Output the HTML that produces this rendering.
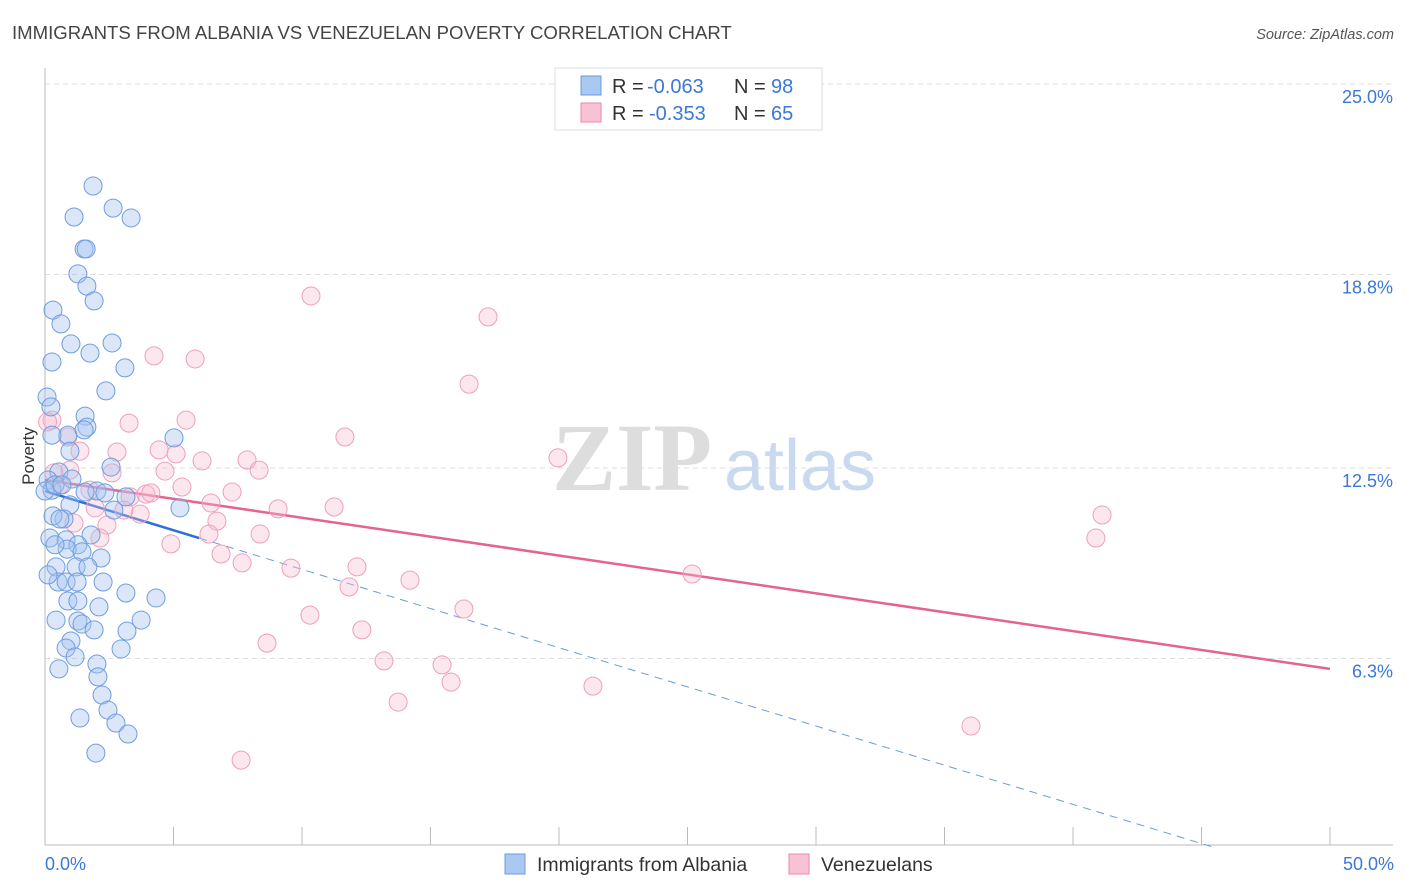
<!DOCTYPE html>
<html><head><meta charset="utf-8"><style>
body{margin:0;background:#fff;font-family:"Liberation Sans",sans-serif}
svg{display:block}
</style></head><body>
<svg id="chart" width="1406" height="892">
<text x="12" y="39" font-size="18.6" fill="#444">IMMIGRANTS FROM ALBANIA VS VENEZUELAN POVERTY CORRELATION CHART</text>
<text x="1394" y="39" font-size="14.5" fill="#555" font-style="italic" text-anchor="end">Source: ZipAtlas.com</text>
<g><text x="632" y="490" font-size="96" font-family="Liberation Serif,serif" fill="#ddd" text-anchor="middle" font-weight="bold">ZIP</text><text x="800" y="490" font-size="72" fill="#c9daf0" text-anchor="middle">atlas</text></g>
<g id="grid"></g>
<g id="axes"></g>
<g id="lines"></g>
<g id="points"></g>
<text transform="translate(34,456) rotate(-90)" font-size="17" fill="#333" text-anchor="middle">Poverty</text>
<text x="45" y="870" font-size="18" fill="#3b78d8">0.0%</text>
<text x="1394" y="870" font-size="18" fill="#3b78d8" text-anchor="end">50.0%</text>
<g>
<rect x="555" y="68" width="267" height="62" fill="#fff" stroke="#ddd"/>
<rect x="581" y="76" width="20" height="19" fill="#a9c8f2" stroke="#6b9be0"/>
<g font-size="20"><text x="612" y="93" fill="#333">R =</text><text x="647" y="93" fill="#3b78d8">-0.063</text><text x="734" y="93" fill="#333">N =</text><text x="771" y="93" fill="#3b78d8">98</text></g>
<rect x="581" y="103" width="20" height="19" fill="#f8c2d4" stroke="#e88aa8"/>
<g font-size="20"><text x="612" y="120" fill="#333">R =</text><text x="649" y="120" fill="#3b78d8">-0.353</text><text x="734" y="120" fill="#333">N =</text><text x="771" y="120" fill="#3b78d8">65</text></g>
</g>
<g>
<rect x="505" y="854" width="20" height="20" fill="#a9c8f2" stroke="#6b9be0"/>
<text x="537" y="871" font-size="19.5" fill="#333">Immigrants from Albania</text>
<rect x="789" y="854" width="20" height="20" fill="#f8c2d4" stroke="#e88aa8"/>
<text x="821" y="871" font-size="19.5" fill="#333">Venezuelans</text>
</g>
</svg>
<script>
const yTicks=[25.0,18.8,12.5,6.3];
const yTickLabels=["25.0%","18.8%","12.5%","6.3%"];
const xTicks=[0,5,10,15,20,25,30,35,40,45,50];
const albaniaX=[1.87,1.13,2.65,3.35,1.52,1.60,1.28,1.63,0.31,1.91,0.62,1.01,1.75,2.61,0.27,3.11,2.37,0.08,0.23,1.56,5.02,1.63,0.89,0.27,1.52,0.97,2.57,0.54,0.12,1.05,2.02,0.27,2.68,5.25,0.97,0.74,0.31,1.79,0.19,0.82,1.28,2.18,0.86,1.44,1.21,0.43,1.67,0.51,0.82,1.25,2.26,3.15,4.32,0.89,1.28,2.10,0.43,1.28,1.44,3.74,1.91,3.19,1.01,0.82,1.17,2.96,2.02,2.06,2.22,2.45,1.36,2.76,3.23,1.98,0.0,0.39,0.66,2.33,1.56,3.15,0.58,0.12,0.39,0.54];
const albaniaY=[21.68,20.67,20.96,20.64,19.63,19.63,18.82,18.42,17.64,17.94,17.19,16.54,16.24,16.57,15.95,15.76,15.01,14.81,14.49,14.19,13.48,13.83,13.57,13.57,13.74,13.05,12.53,12.37,12.11,12.14,11.75,11.78,11.13,11.20,11.30,10.84,10.94,10.32,10.22,10.16,10.0,9.57,9.86,9.77,9.28,9.28,9.28,8.79,8.79,8.79,8.79,8.43,8.27,8.17,8.17,7.98,7.55,7.52,7.42,7.55,7.23,7.19,6.87,6.64,6.35,6.61,6.12,5.70,5.11,4.62,4.36,4.20,3.84,3.22,11.75,11.95,11.95,11.69,11.72,11.56,10.84,9.02,10.0,5.96];
const venX=[10.35,17.24,4.24,5.84,16.50,3.27,5.49,11.67,0.27,0.89,1.36,2.80,4.44,5.10,6.11,7.86,8.33,4.67,0.35,0.97,2.61,5.33,7.28,1.75,3.31,3.93,4.12,6.46,9.07,11.25,1.13,2.41,3.70,6.69,6.38,8.37,2.14,4.90,6.85,7.67,9.57,12.14,14.20,11.83,19.96,25.18,41.13,40.89,16.30,10.31,12.33,8.64,13.19,15.45,15.80,21.32,13.74,36.03,7.63,1.95,3.07,0.58,0.1];
const venY=[18.10,17.42,16.15,16.05,15.23,13.96,14.06,13.51,14.06,13.51,13.05,13.02,13.09,12.96,12.73,12.76,12.43,12.40,12.34,12.43,12.34,11.88,11.72,11.78,11.56,11.65,11.69,11.36,11.17,11.23,10.71,10.64,11.0,10.77,10.35,10.35,10.22,10.03,9.70,9.41,9.24,9.28,8.85,8.63,12.83,9.05,10.97,10.22,7.91,7.71,7.23,6.80,6.22,6.09,5.53,5.40,4.88,4.10,2.99,11.20,11.13,11.95,14.0];
const albaniaTrend=[11.75,-1.0]; // y at x=0 and x=50
const venTrend=[12.11,5.96];
const NS="http://www.w3.org/2000/svg";
const X=v=>45+v/50*1285;
const Y=v=>84+(25-v)/6.25*192;
function mk(parent,tag,attrs){const e=document.createElementNS(NS,tag);for(const k in attrs)e.setAttribute(k,attrs[k]);document.getElementById(parent).appendChild(e);return e;}
yTicks.forEach((t,i)=>{
 const g=mk('grid','line',{x1:45,x2:1393,y1:Y(t),y2:Y(t),stroke:'#ddd','stroke-dasharray':'5,4'});
 
 
 const l=mk('axes','text',{x:1393,y:Y(t)+19,'font-size':18,fill:'#3b78d8','text-anchor':'end'});
 l.textContent=yTickLabels[i];
 
 
});
let a=mk('axes','line',{x1:45,x2:45,y1:68,y2:845,stroke:'#bbb'});


a=mk('axes','line',{x1:45,x2:1393,y1:845,y2:845,stroke:'#bbb'});


xTicks.forEach(t=>{const e=mk('axes','line',{x1:X(t),x2:X(t),y1:827,y2:845,stroke:'#bbb'});
 
 });
const bY=x=>albaniaTrend[0]+(albaniaTrend[1]-albaniaTrend[0])*x/50;
const bx2=6.0;
let ln=mk('lines','line',{x1:X(0),y1:Y(bY(0)),x2:X(bx2),y2:Y(bY(bx2)),stroke:'#2d6fd6','stroke-width':2.5});


const bx3=45.5;
ln=mk('lines','line',{x1:X(bx2),y1:Y(bY(bx2)),x2:X(bx3),y2:Y(bY(bx3)),stroke:'#6b9be0','stroke-width':1,'stroke-dasharray':'8,6'});


ln=mk('lines','line',{x1:X(0),y1:Y(venTrend[0]),x2:X(50),y2:Y(venTrend[1]),stroke:'#e4638f','stroke-width':2.5});


venX.forEach((x,i)=>{const c=mk('points','circle',{cx:X(x),cy:Y(venY[i]),r:9,fill:'rgba(248,187,208,0.35)',stroke:'#eea0ba','stroke-width':1});
 
 });
albaniaX.forEach((x,i)=>{const c=mk('points','circle',{cx:X(x),cy:Y(albaniaY[i]),r:9,fill:'rgba(165,196,240,0.4)',stroke:'#6f9de0','stroke-width':1});
 
 });
</script>
</body></html>
